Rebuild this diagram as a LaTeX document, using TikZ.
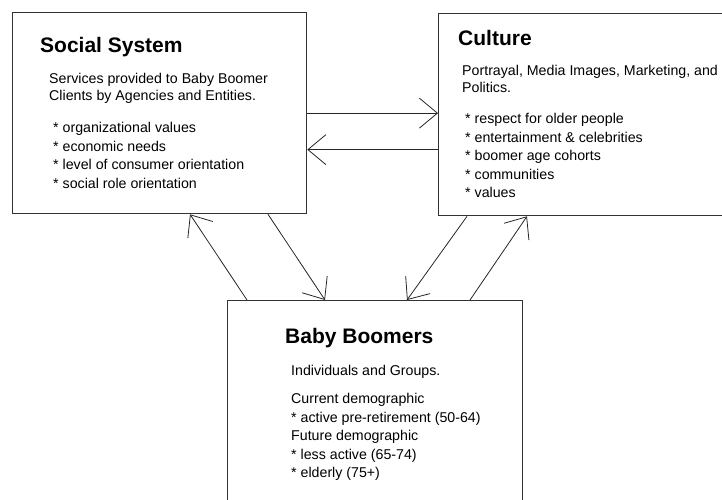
\documentclass[tikz,border=0pt]{standalone}
\usepackage{fontspec}
\setmainfont{Liberation Sans}
\usetikzlibrary{arrows.meta}
\tikzstyle{box} = [draw=black!80, line width=1.3pt, inner sep=0pt, anchor=north west]
\tikzstyle{heading} = [inner sep=0pt, anchor=base west, font=\fontsize{21}{24}\selectfont\bfseries]
\tikzstyle{body} = [inner sep=0pt, anchor=north west, align=left, font=\fontsize{14.2}{18.6}\selectfont]
\tikzstyle{flow} = [draw=black!85, line width=0.8pt, -{Straight Barb[length=18pt,width=30pt,line width=0.8pt]}]

\begin{document}
\begin{tikzpicture}[x=1pt,y=-1pt]
\path[use as bounding box, clip] (0,0) rectangle (722,499);
%boxes
\node[box, minimum width=294pt, minimum height=201pt] (social) at (12,12) {};
\node[box, minimum width=300pt, minimum height=202pt] (culture) at (438,13) {};
\node[box, minimum width=295pt, minimum height=230pt] (boomers) at (227,300) {};

\node[heading] (socialtitle) at ([xshift=28pt,yshift=-40pt]social.north west) {Social System};
\node[body] (socialtext) at ([xshift=37pt,yshift=-61pt]social.north west)
	{Services provided to Baby Boomer\\[-2pt] Clients by Agencies and Entities.};
\node[body] (sociallist) at ([xshift=41pt,yshift=-110pt]social.north west)
	{* organizational values\\ * economic needs\\ * level of consumer orientation\\ * social role orientation};

\node[heading] (culturetitle) at ([xshift=20pt,yshift=-32pt]culture.north west) {Culture};
\node[body] (culturetext) at ([xshift=24pt,yshift=-52pt]culture.north west)
	{Portrayal, Media Images, Marketing, and\\[-1.5pt] Politics.};
\node[body] (culturelist) at ([xshift=27pt,yshift=-100pt]culture.north west)
	{* respect for older people\\ * entertainment \& celebrities\\ * boomer age cohorts\\ * communities\\ * values};

\node[heading] (boomerstitle) at ([xshift=58pt,yshift=-43pt]boomers.north west) {Baby Boomers};
\node[body] (boomerstext) at ([xshift=64pt,yshift=-65pt]boomers.north west) {Individuals and Groups.};
\node[body] (boomerslist) at ([xshift=64pt,yshift=-93pt]boomers.north west)
	{Current demographic\\ * active pre-retirement (50-64)\\ Future demographic\\ * less active (65-74)\\ * elderly (75+)};

%connectors
\draw[flow] (social.east) -- (social.east -| culture.west);
\draw[flow] ([yshift=-35pt]culture.west) -- ([yshift=-35pt]culture.west -| social.east);
\draw[flow] ([xshift=20pt]boomers.north west) -- ([xshift=178pt]social.south west);
\draw[flow] ([xshift=256pt]social.south west) -- ([xshift=98pt]boomers.north west);
\draw[flow] ([xshift=29pt]culture.south west) -- ([xshift=180pt]boomers.north west);
\draw[flow] ([xshift=243pt]boomers.north west) -- ([xshift=89pt]culture.south west);
\end{tikzpicture}
\end{document}
